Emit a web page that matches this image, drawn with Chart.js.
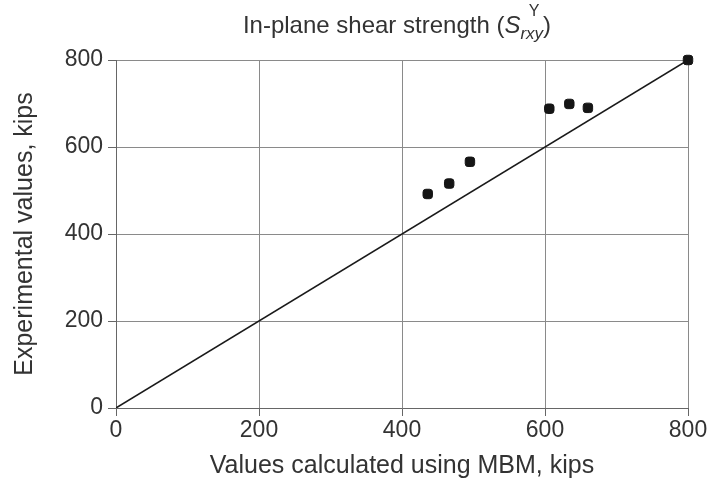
<!DOCTYPE html>
<html>
<head>
<meta charset="utf-8">
<script src="https://cdn.jsdelivr.net/npm/chart.js@4/dist/chart.umd.min.js"></script>
<style>
  html, body { margin: 0; padding: 0; background: #fff; }
  #wrap { width: 709px; height: 482px; }
</style>
</head>
<body>
<div id="wrap"><canvas id="chart1"></canvas></div>
<script>
// MBM calculated vs experimental (kips)
const calcValues = [436, 466, 495, 606, 634, 660, 800];
const expValues = [492, 516, 566, 688, 699, 690, 800];
const lineX = [0, 800];
const lineY = [0, 800];
const tickValues = [0, 200, 400, 600, 800];

const FONT = '"Liberation Sans", Arial, sans-serif';

// title with S subscript rxy / superscript Y
const titlePlugin = {
  id: 'mathTitle',
  afterDraw(chart) {
    const c = chart.ctx;
    const parts = [
      { t: 'In-plane shear strength (', f: '24px ' + FONT, dy: 0 },
      { t: 'S', f: 'italic 24px ' + FONT, dy: 0 },
      { t: 'rxy', f: 'italic 17px ' + FONT, dy: 6 },
      { t: ')', f: '24px ' + FONT, dy: 0 }
    ];
    let w = 0;
    parts.forEach(p => { c.font = p.f; p.w = c.measureText(p.t).width; w += p.w; });
    let x = 397 - w / 2;
    const base = 33;
    c.save();
    c.fillStyle = '#333';
    c.textBaseline = 'alphabetic';
    parts.forEach(p => {
      c.font = p.f;
      c.fillText(p.t, x, base + p.dy);
      if (p.t === 'rxy') {
        c.font = '16px ' + FONT;
        c.fillText('Y', x + p.w / 2 - 3, base - 17);
      }
      x += p.w;
    });
    c.restore();
  }
};

const ctx1 = document.getElementById('chart1');
new Chart(ctx1, {
  type: 'scatter',
  data: {
    datasets: [{
      label: 'Test',
      data: calcValues.map((v, i) => ({ x: v, y: expValues[i] })),
      pointStyle: 'rectRounded',
      pointRadius: 5.5,
      backgroundColor: '#151515',
      borderColor: '#151515',
      clip: false
    }, {
      label: 'Equal',
      data: lineX.map((v, i) => ({ x: v, y: lineY[i] })),
      showLine: true,
      pointRadius: 0,
      borderColor: '#1a1a1a',
      borderWidth: 1.5,
      fill: false
    }]
  },
  options: {
    responsive: true,
    maintainAspectRatio: false,
    animation: false,
    layout: { padding: { top: 60, right: 21, left: 0, bottom: 0 } },
    plugins: {
      legend: { display: false },
      tooltip: { enabled: false }
    },
    scales: {
      x: {
        min: 0,
        max: 800,
        afterBuildTicks(scale) { scale.ticks = tickValues.map(v => ({ value: v })); },
        afterFit(scale) { scale.height = 74; },
        grid: { color: '#8a8a8a', lineWidth: 1, tickLength: 8, tickColor: '#666' },
        border: { color: '#666', width: 1 },
        ticks: { color: '#333', font: { family: FONT, size: 23 }, padding: 1, maxRotation: 0 },
        title: {
          display: true,
          text: 'Values calculated using MBM, kips',
          color: '#333',
          font: { family: FONT, size: 25 },
          padding: { top: 0, bottom: 1 }
        }
      },
      y: {
        min: 0,
        max: 800,
        afterBuildTicks(scale) { scale.ticks = tickValues.map(v => ({ value: v })); },
        afterFit(scale) { scale.width = 116; },
        grid: { color: '#8a8a8a', lineWidth: 1, tickLength: 8, tickColor: '#666' },
        border: { color: '#666', width: 1 },
        ticks: { color: '#333', font: { family: FONT, size: 23 }, padding: 5 },
        title: {
          display: true,
          text: 'Experimental values, kips',
          color: '#333',
          font: { family: FONT, size: 25 },
          padding: { top: 10, bottom: 0 }
        }
      }
    }
  },
  plugins: [titlePlugin]
});
</script>
</body>
</html>
